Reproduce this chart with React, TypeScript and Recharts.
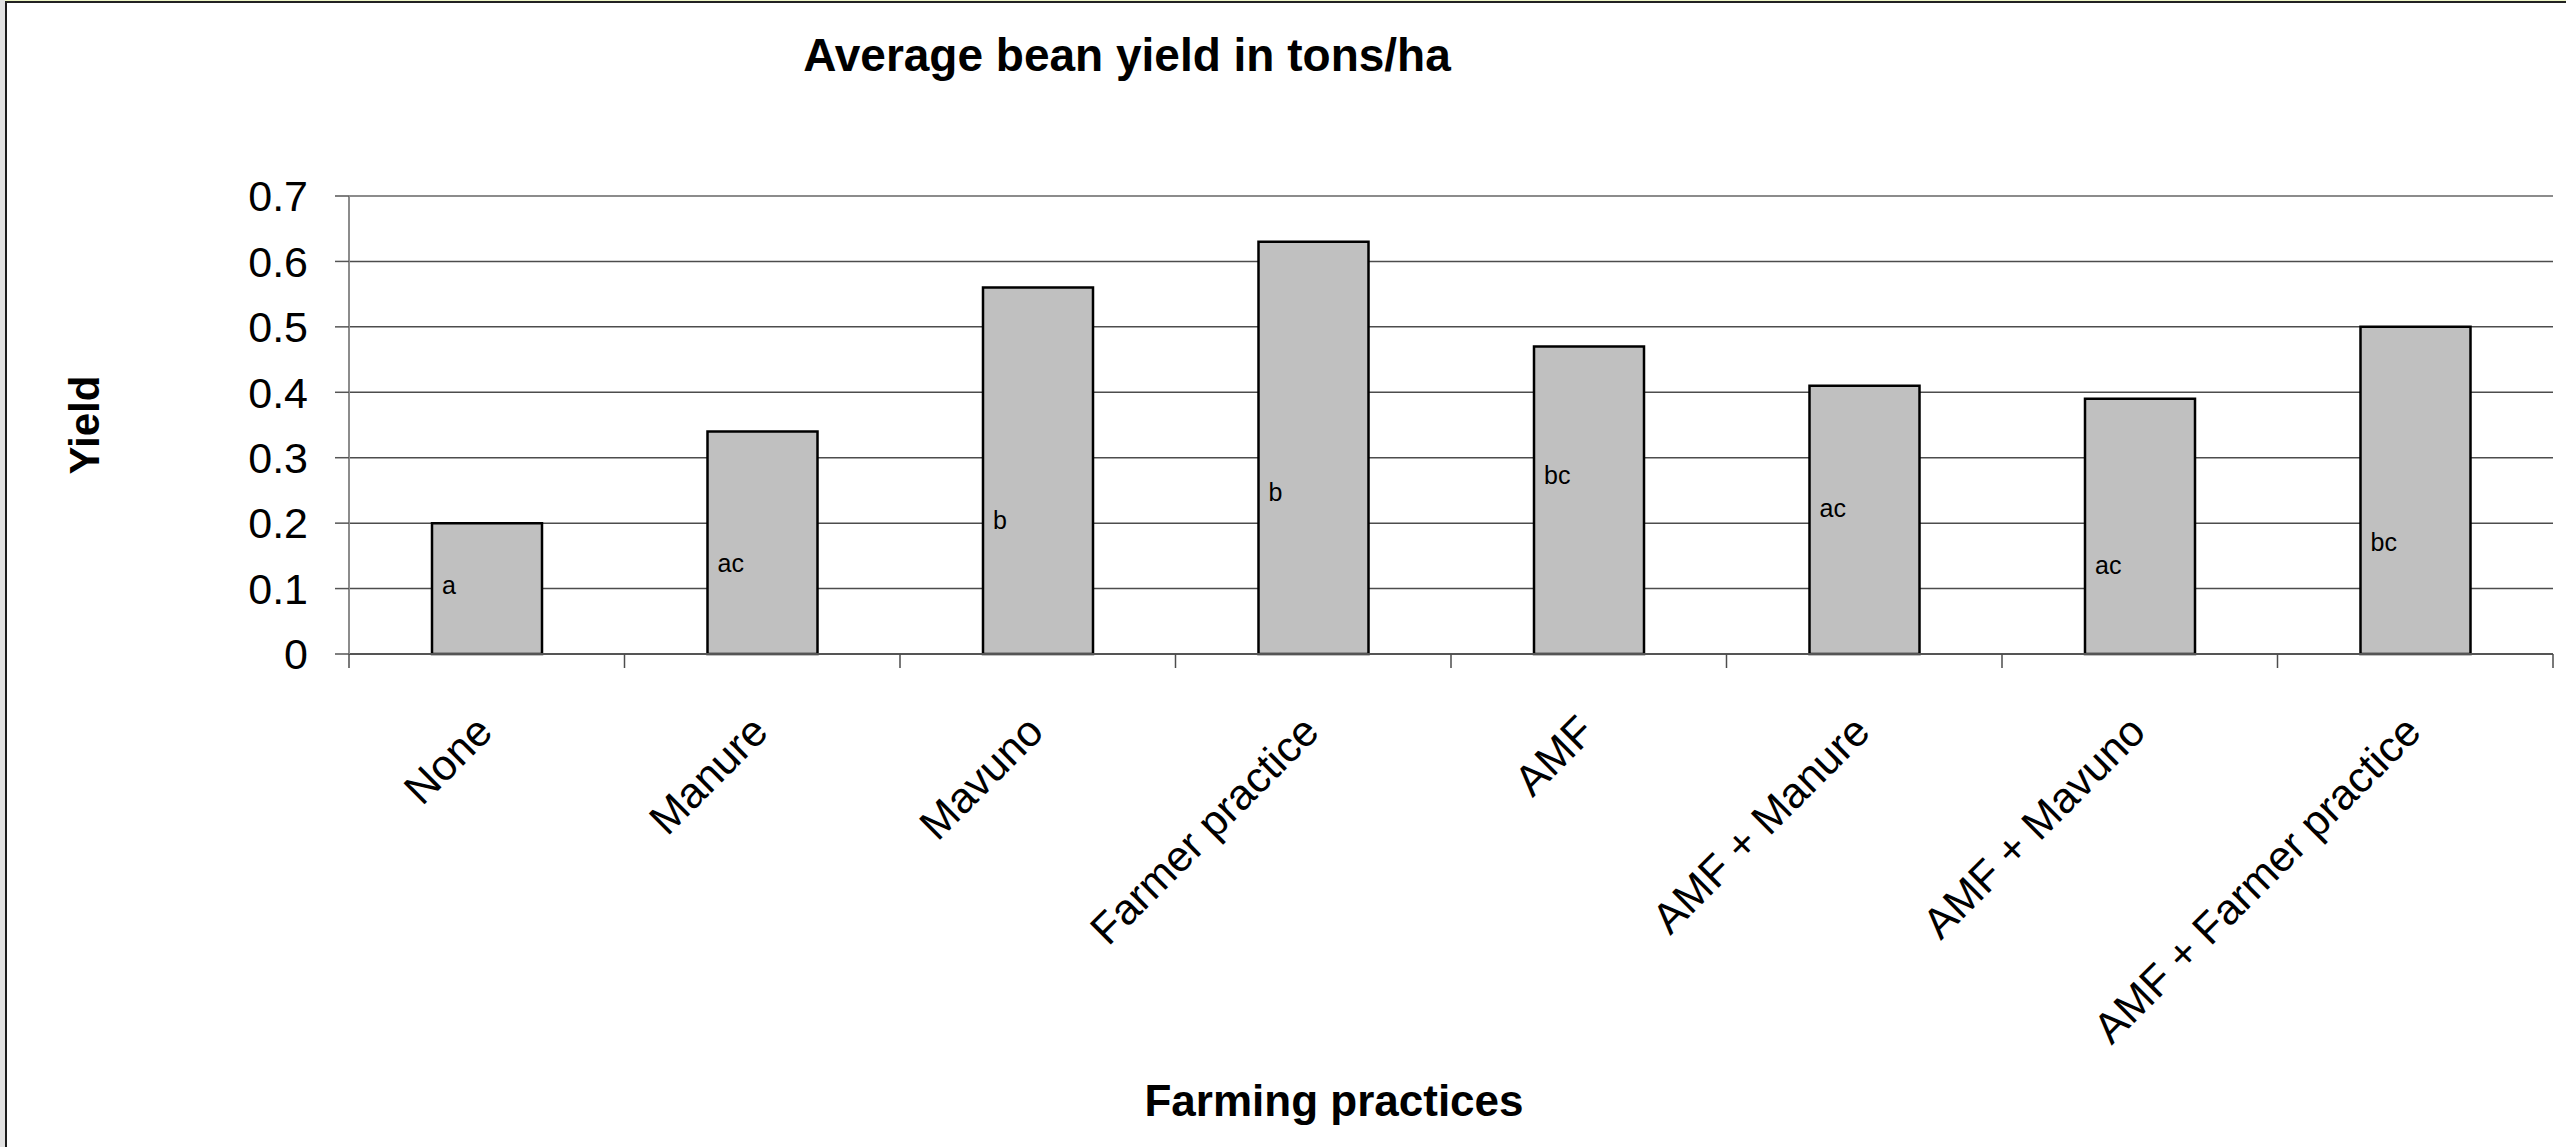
import React from "react";
import { Bar, BarChart, CartesianGrid, Label, LabelList, XAxis, YAxis } from "recharts";

const practices = [
  "None",
  "Manure",
  "Mavuno",
  "Farmer practice",
  "AMF",
  "AMF + Manure",
  "AMF + Mavuno",
  "AMF + Farmer practice",
];
const yields = [0.2, 0.34, 0.56, 0.63, 0.47, 0.41, 0.39, 0.5];
// significance letters typed inside the bars, and the yield level they sit at
const groups = ["a", "ac", "b", "b", "bc", "ac", "ac", "bc"];
const groupAt = [0.092, 0.125, 0.191, 0.234, 0.26, 0.21, 0.122, 0.157];
const yTicks = [0, 0.1, 0.2, 0.3, 0.4, 0.5, 0.6, 0.7];

const data = practices.map((name, i) => ({ name, yield: yields[i], group: groups[i] }));

const font = "'Liberation Sans', Arial, sans-serif";
const W = 2566;
const H = 1147;
const plotLeft = 349;
const plotRight = W - 13;
const band = (plotRight - plotLeft) / practices.length;

// category label plus the Excel-style tick marks between categories
const PracticeTick = (props: any) => {
  const { x, y, payload, index } = props;
  const tx = x + 8;
  const ty = y + 80;
  const left = x - band / 2;
  const right = x + band / 2;
  return (
    <g>
      <line x1={left} x2={left} y1={y} y2={y + 14} stroke="#4d4d4d" strokeWidth={1.5} />
      {index === practices.length - 1 && (
        <line x1={right} x2={right} y1={y} y2={y + 14} stroke="#4d4d4d" strokeWidth={1.5} />
      )}
      <text
        x={tx}
        y={ty}
        transform={`rotate(-45 ${tx} ${ty})`}
        textAnchor="end"
        fontSize={43}
        fontFamily={font}
        fill="#000"
      >
        {payload.value}
      </text>
    </g>
  );
};

const GroupLabel = (props: any) => {
  const { x, y, height, index, value } = props;
  const ly = y + height - (groupAt[index] / yields[index]) * height;
  return (
    <text x={x + 10} y={ly} fontSize={25} fontFamily={font} fill="#000">
      {value}
    </text>
  );
};

const Titles = () => (
  <g>
    <text x={1127} y={71} textAnchor="middle" fontSize={46} fontWeight="bold" fontFamily={font} fill="#000">
      Average bean yield in tons/ha
    </text>
    <text x={1334} y={1116} textAnchor="middle" fontSize={44} fontWeight="bold" fontFamily={font} fill="#000">
      Farming practices
    </text>
  </g>
);

const YTitle = () => (
  <text
    x={99}
    y={425}
    transform="rotate(-90 99 425)"
    textAnchor="middle"
    fontSize={42}
    fontWeight="bold"
    fontFamily={font}
    fill="#000"
  >
    Yield
  </text>
);

export default function App() {
  return (
    <div
      style={{
        position: "absolute",
        left: 0,
        top: 0,
        width: W,
        height: H,
        background: "#fff",
        overflow: "hidden",
      }}
    >
      <BarChart
        width={W}
        height={H}
        data={data}
        margin={{ top: 196, right: W - plotRight, left: 0, bottom: 0 }}
      >
        <CartesianGrid vertical={false} stroke="#4d4d4d" strokeWidth={1.5} />
        <XAxis
          dataKey="name"
          interval={0}
          height={493}
          tickSize={0}
          tickMargin={0}
          tickLine={false}
          axisLine={{ stroke: "#555", strokeWidth: 2 }}
          tick={<PracticeTick />}
          label={<Label content={<Titles />} />}
        />
        <YAxis
          domain={[0, 0.7]}
          ticks={yTicks}
          width={plotLeft}
          tickSize={14}
          tickMargin={27}
          tickFormatter={(v: number) => (v === 0 ? "0" : v.toFixed(1))}
          tick={{ fontSize: 43, fill: "#000", fontFamily: font }}
          axisLine={{ stroke: "#8c8c8c", strokeWidth: 2 }}
          tickLine={{ stroke: "#555", strokeWidth: 1.5 }}
          label={<Label content={<YTitle />} />}
        />
        <YAxis
          yAxisId="right"
          orientation="right"
          domain={[0, 0.7]}
          width={0}
          tick={false}
          tickLine={false}
          axisLine={{ stroke: "#a6a6a6", strokeWidth: 3 }}
        />
        <Bar
          dataKey="yield"
          barSize={110}
          fill="#c0c0c0"
          stroke="#000"
          strokeWidth={2.5}
          isAnimationActive={false}
        >
          <LabelList dataKey="group" content={<GroupLabel />} />
        </Bar>
      </BarChart>
      <div style={{ position: "absolute", left: plotLeft, top: 195, width: plotRight - plotLeft, height: 2, background: "#8c8c8c" }} />
      <div style={{ position: "absolute", left: 0, top: 0, width: 5, height: H, background: "#e2e2e2" }} />
      <div style={{ position: "absolute", left: 5, top: 2, width: 2, height: H, background: "#1c1c1c" }} />
      <div style={{ position: "absolute", left: 5, top: 0, width: W, height: 1, background: "#eef6c6" }} />
      <div style={{ position: "absolute", left: 5, top: 1, width: W, height: 2, background: "#222" }} />
    </div>
  );
}
